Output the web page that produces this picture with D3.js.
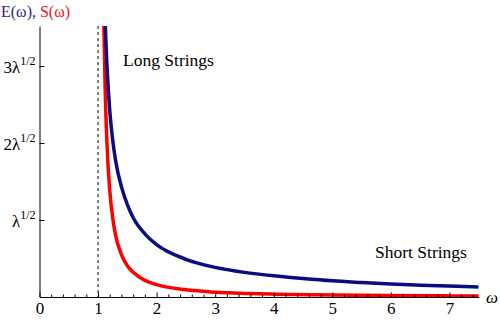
<!DOCTYPE html>
<html>
<head>
<meta charset="utf-8">
<script src="https://cdn.jsdelivr.net/npm/d3@7"></script>
<style>
body{margin:0;background:#fff;}
</style>
</head>
<body>
<svg id="chart"></svg>
<script>
// E(omega) - navy curve
const omegaE = [1.10,1.12,1.15,1.20,1.25,1.30,1.40,1.50,1.60,1.80,2.00,2.50,3.00,3.50,4.00,4.50,5.00,5.50,6.00,6.50,7.00,7.50];
const valuesE = [4.20,3.62,3.04,2.42,2.04,1.77,1.43,1.20,1.03,0.82,0.68,0.49,0.385,0.32,0.275,0.24,0.21,0.188,0.168,0.154,0.142,0.131];
// S(omega) - red curve
const omegaS = [1.08,1.10,1.12,1.15,1.20,1.25,1.30,1.40,1.50,1.60,1.80,2.00,2.50,3.00,3.50,4.00,5.00,6.00,7.00,7.50];
const valuesS = [4.70,3.50,2.74,2.03,1.38,1.03,0.80,0.55,0.405,0.32,0.216,0.16,0.093,0.063,0.047,0.037,0.025,0.0185,0.0145,0.013];

const xTicks = [0,1,2,3,4,5,6,7];
const yTicks = [1,2,3];
const yTickLabels = ["λ","2λ","3λ"];

const w = 500, h = 322;
const padLeft = 39.5, padRight = 478.7, padBottom = 297, padTop = 26;
const serif = "'Liberation Serif','Times New Roman',serif";

let svg = d3.select("#chart").attr("width", w).attr("height", h)
  .style("font-family", serif);

let xScale = d3.scaleLinear().domain([0, 7.5]).range([padLeft, padRight]);
let yScale = d3.scaleLinear().domain([0, 3.52]).range([padBottom, padTop]);

svg.append("clipPath").attr("id","plotclip")
  .append("rect").attr("x", padLeft).attr("y", padTop).attr("width", padRight-padLeft).attr("height", padBottom-padTop);

// dashed line at omega = 1
svg.append("line")
  .attr("x1", xScale(1)).attr("x2", xScale(1))
  .attr("y1", yScale(3.52)).attr("y2", yScale(0))
  .attr("stroke","#000").attr("stroke-width",1).attr("stroke-dasharray","3,3");

let line = d3.line().x(d => xScale(d[0])).y(d => yScale(d[1])).curve(d3.curveMonotoneX);

let plot = svg.append("g").attr("clip-path","url(#plotclip)");
plot.append("path").datum(d3.zip(omegaS, valuesS))
  .attr("d", line).attr("fill","none").attr("stroke","#ff0000").attr("stroke-width",3.5);
plot.append("path").datum(d3.zip(omegaE, valuesE))
  .attr("d", line).attr("fill","none").attr("stroke","#0c0c80").attr("stroke-width",3.5);

// x axis: minor ticks then major
let minor = d3.range(0, 7.5001, 0.2).filter(v => Math.abs(v - Math.round(v)) > 1e-6);
svg.append("g").attr("transform","translate(0,"+padBottom+")")
  .call(d3.axisBottom(xScale).tickValues(minor).tickSize(-2.5).tickFormat(""))
  .call(g => g.select(".domain").remove());
let xAxis = svg.append("g").attr("transform","translate(0,"+padBottom+")")
  .call(d3.axisBottom(xScale).tickValues(xTicks).tickSize(-4.5).tickSizeOuter(0).tickPadding(5).tickFormat(d3.format("d")));
xAxis.attr("font-family", null);
xAxis.selectAll("text").attr("font-size",17).attr("fill","#000").style("font-family", serif);
xAxis.selectAll("line,path").attr("stroke","#000");

// y axis
let yAxis = svg.append("g").attr("transform","translate("+padLeft+",0)")
  .call(d3.axisLeft(yScale).tickValues(yTicks).tickSize(-5).tickSizeOuter(0).tickPadding(4).tickFormat(""));
yAxis.selectAll("line,path").attr("stroke","#000");
yAxis.selectAll(".tick").each(function(d, i){
  let t = d3.select(this).append("text")
    .attr("x", -4).attr("y", 6).attr("text-anchor","end")
    .attr("fill","#000").attr("font-size",17).style("font-family", serif);
  t.append("tspan").text(yTickLabels[i]);
  t.append("tspan").attr("font-size",12).attr("dy",-7.5).text("1/2");
});

// x axis label
svg.append("text").attr("x", 486).attr("y", 303).attr("font-size",17).attr("font-style","italic").style("font-family", serif).text("ω");

// title
let title = svg.append("text").attr("x", 1).attr("y", 17).attr("font-size",16).style("font-family", serif);
title.append("tspan").attr("fill","#3a1a86").text("E(ω)");
title.append("tspan").attr("fill","#3a1a86").text(", ");
title.append("tspan").attr("fill","#e8141a").text("S(ω)");

// annotations
svg.append("text").attr("x", 123).attr("y", 66).attr("font-size",17.5).style("font-family", serif).text("Long Strings");
svg.append("text").attr("x", 375).attr("y", 258).attr("font-size",17.5).style("font-family", serif).text("Short Strings");
</script>
</body>
</html>
